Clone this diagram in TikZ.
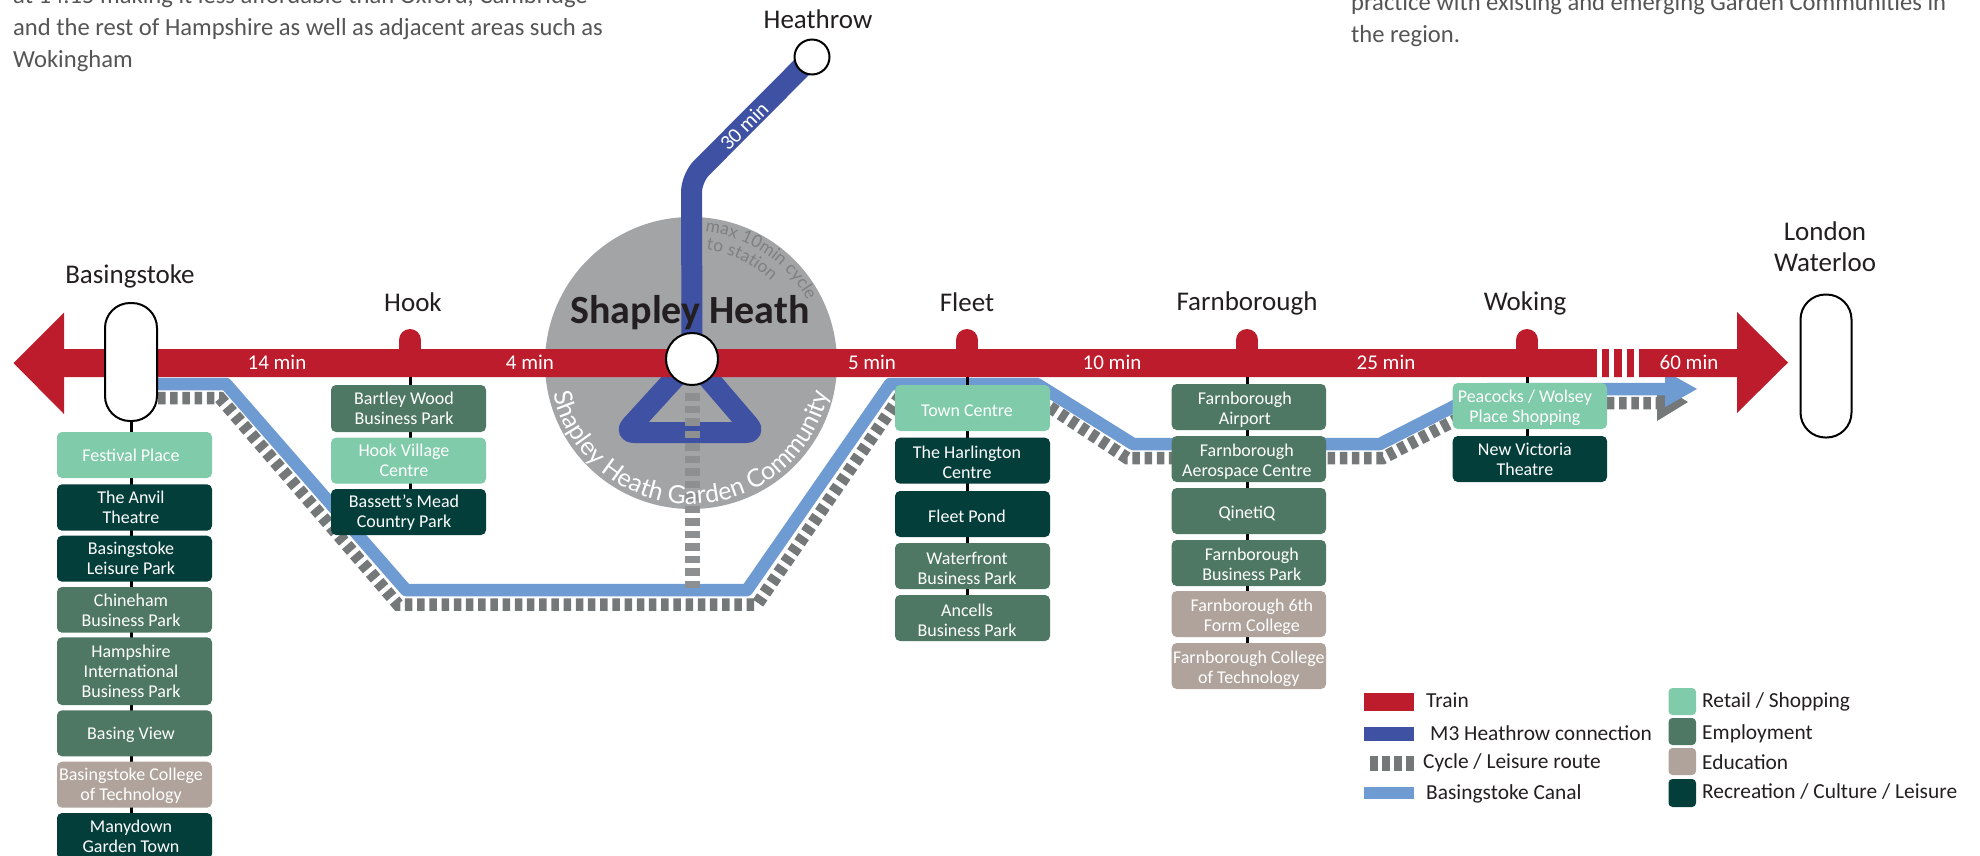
\documentclass[tikz,border=0pt]{standalone}
\usepackage{fontspec}
\setmainfont{Carlito}
\newfontfamily\arcfont{Lato}
\usetikzlibrary{decorations.text,backgrounds}
\definecolor{trainred}{HTML}{BC1C2B}
\definecolor{mblue}{HTML}{3F51A3}
\definecolor{canal}{HTML}{6F9BD3}
\definecolor{cyc}{HTML}{757879}
\definecolor{cycb}{HTML}{8E8F90}
\definecolor{cyct}{HTML}{7F8082}
\definecolor{disc}{HTML}{A3A4A6}
\definecolor{retail}{HTML}{7FCBAA}
\definecolor{employ}{HTML}{4E7864}
\definecolor{edu}{HTML}{AFA39B}
\definecolor{recre}{HTML}{033E3A}
\definecolor{ink}{HTML}{231F20}
\definecolor{para}{HTML}{555555}
\newcommand{\fsz}[1]{\fontsize{#1}{#1}\selectfont}
\tikzset{
  x=1pt,y=1pt,
  tag/.style={rounded corners=5pt,inner sep=0pt,text=white,font=\fontsize{18}{20}\selectfont},
  rbox/.style={tag,fill=retail},
  ebox/.style={tag,fill=employ},
  dbox/.style={tag,fill=edu},
  cbox/.style={tag,fill=recre},
  capsule/.style={draw=black,line width=2pt,fill=white,rounded corners=25pt,inner sep=0pt},
  stnode/.style={circle,draw=black,line width=2pt,fill=white,inner sep=0pt},
  stub/.style={trainred,line width=22pt,line cap=round},
  stem/.style={draw=black,line width=3pt},
  canalline/.style={draw=canal,line width=12.5pt},
  cycleline/.style={draw=cyc,line width=12.5pt,dash pattern=on 7.5pt off 4.7pt},
  place/.style={font=\fontsize{27}{31}\selectfont,text=ink,align=center,inner sep=0pt},
  mins/.style={font=\fontsize{21}{21}\selectfont,text=white,inner sep=0pt},
  legend/.style={font=\fontsize{21.4}{22}\selectfont,text=ink,anchor=west,inner sep=0pt},
  swatch/.style={rounded corners=4pt},
  paragraph/.style={font=\fontsize{24.6}{25}\selectfont,text=para,anchor=base west,inner sep=0pt},
}
\def\tshift{0}
\def\tdown{0}
% the tabular's centre sits 4.5pt above a zero-sized box's baseline at this size
\newcommand{\bx}[7]{\node[#2,minimum width={(#4-#3)*1pt},minimum height={(#6-#5)*1pt}] (#1) at ({(#3+#4)/2},{-(#5+#6)/2}) {\hspace*{\tshift pt}\raisebox{\dimexpr-4.5pt-\tdown pt\relax}[0pt][0pt]{\begin{tabular}{@{}c@{}}#7\end{tabular}}};}
\pgfdeclarelayer{under}
\pgfsetlayers{under,main}
\begin{document}
\begin{tikzpicture}
\useasboundingbox (0,0) rectangle (1980,-855);
\clip (0,0) rectangle (1980,-855);
\begin{pgfonlayer}{under}
\fill[white] (0,0) rectangle (1980,-855);
\end{pgfonlayer}

% stations
\node[capsule,minimum width=52pt,minimum height=118pt] (bas) at (131,-362) {};
\node[capsule,minimum width=51pt,minimum height=143pt] (wat) at (1826,-366) {};
\node[stnode,minimum size=52pt] (sh) at (692,-359) {};
\node[stnode,minimum size=35pt] (hr) at (812,-57) {};
\coordinate (hk) at (410,-363);
\coordinate (fl) at (967,-363);
\coordinate (fb) at (1247,-363);
\coordinate (wk) at (1527,-363);
\coordinate (mbend) at (691.5,-178);
\coordinate (triL) at (625,-432.5);
\coordinate (triR) at (755,-432.5);
\coordinate (cycS) at (692,-393);
\coordinate (cycE) at (692,-593);

% basingstoke boxes
\def\tshift{-7}\def\tdown{2}
\bx{fest}{rbox}{57}{212}{432}{478}{Festival Place}
\bx{anv}{cbox}{57}{212}{484.3}{530.7}{The Anvil\\Theatre}
\bx{bl}{cbox}{57}{212}{535.7}{581.7}{Basingstoke\\Leisure Park}
\bx{chi}{ebox}{57}{212}{587}{632.7}{Chineham\\Business Park}
\bx{ham}{ebox}{57}{212}{637.3}{705}{Hampshire\\International\\Business Park}
\bx{bv}{ebox}{57}{212}{710.3}{756.3}{Basing View}
\bx{bc}{dbox}{57}{212}{761.7}{807.7}{Basingstoke College\\of Technology}
\bx{man}{cbox}{57}{212}{813}{859}{Manydown\\Garden Town}
% hook
\def\tshift{-9}\def\tdown{1.5}
\bx{bw}{ebox}{331}{486}{385}{432}{Bartley Wood\\Business Park}
\bx{hv}{rbox}{331}{486}{437.7}{483.7}{Hook Village\\Centre}
\bx{bm}{cbox}{331}{486}{489}{535}{Bassett's Mead\\Country Park}
% fleet
\def\tshift{-11}\def\tdown{4}
\bx{tc}{rbox}{895}{1050}{385}{431}{Town Centre}
\bx{har}{cbox}{895}{1050}{437.7}{483.7}{The Harlington\\Centre}
\bx{fp}{cbox}{895}{1050}{491}{537}{Fleet Pond}
\bx{wf}{ebox}{895}{1050}{543}{589}{Waterfront\\Business Park}
\bx{anc}{ebox}{895}{1050}{595}{641}{Ancells\\Business Park}
% farnborough
\def\tdown{3}
\def\tshift{-8}
\bx{fa}{ebox}{1171.7}{1326}{384}{430}{Farnborough\\Airport}
\def\tshift{-4}
\bx{fac}{ebox}{1171.7}{1326}{436}{482}{Farnborough\\Aerospace Centre}
\bx{qq}{ebox}{1171.7}{1326}{488}{534}{QinetiQ}
\def\tshift{6}
\bx{fbp}{ebox}{1171.7}{1326}{540}{586}{Farnborough\\Business Park}
\bx{f6}{dbox}{1171.7}{1326}{591}{637}{Farnborough 6th\\Form College}
\def\tshift{0}
\bx{fct}{dbox}{1171.7}{1326}{643}{689}{Farnborough College\\of Technology}
% woking
\def\tshift{-10}\def\tdown{2}
\bx{pw}{rbox}{1452.7}{1607}{383}{429}{Peacocks / Wolsey\\Place Shopping}
\bx{nv}{cbox}{1452.7}{1607}{436}{482}{New Victoria\\Theatre}

\begin{pgfonlayer}{under}
  % Garden community disc
  \fill[disc] (691,-363) circle (146);
  % M3
  \draw[mblue,line width=21pt,rounded corners=14pt] (hr.center) -- (mbend) -- (sh.center);
  \draw[mblue,line width=21pt,line join=round,rounded corners=9pt] (sh.center) -- (triL) -- (triR) -- cycle;
  % canal and cycle route
  \draw[cycleline] (bas.east |- 0,-398) -- (220,-398) -- (398,-604.5) -- (757,-604.5) -- (899,-398) -- (1036,-398) -- (1127,-458) -- (1383,-458) -- (1488,-403) -- (1657,-403);
  \fill[cyc] (1657,-383) -- (1688,-402) -- (1657,-421) -- cycle;
  \draw[canalline,line join=round] (bas.east |- 0,-384) -- (226,-384) -- (406,-590) -- (747,-590) -- (890,-384) -- (1037,-384) -- (1133,-444) -- (1380,-444) -- (1488,-389) -- (1670,-389);
  \fill[canal] (1665,-371) -- (1697,-389) -- (1665,-407) -- cycle;
  \draw[draw=cycb,line width=15pt,dash pattern=on 7.5pt off 5pt] (cycS) -- (cycE);
  % stems
  \draw[stem] (bas.center) -- (bas.center |- man.center);
  \draw[stem] (hk) -- (hk |- bm.center);
  \draw[stem] (fl) -- (fl |- anc.center);
  \draw[stem] (fb) -- (fb |- fct.center);
  \draw[stem] (wk) -- (wk |- nv.center);
  % train line
  \draw[stub] (hk) ++(0,23) -- (hk);
  \draw[stub] (fl) ++(0,23) -- (fl);
  \draw[stub] (fb) ++(0,23) -- (fb);
  \draw[stub] (wk) ++(0,23) -- (wk);
  \fill[trainred] (13.5,-363) -- (64,-312.5) -- (64,-349) -- (1737,-349) -- (1737,-312) -- (1788,-362.5) -- (1737,-413) -- (1737,-377) -- (64,-377) -- (64,-414) -- cycle;
  \foreach \xa/\xb in {1597.3/1601.7,1609.3/1614,1622/1626.7,1634.3/1639}
    \fill[white] (\xa,-348) rectangle (\xb,-378);
\end{pgfonlayer}

% text on the disc
\node[font=\bfseries\fontsize{40}{40}\selectfont,text=ink,inner sep=0pt] (shl) at (690,-312.5) {Shapley Heath};
\path[decorate,decoration={text along path,text align=center,
  text={|\arcfont\fsz{25}\color{white}|Shapley Heath Garden Community}}]
  (691,-363) ++(186:141) arc (186:354:141);
\path[decorate,decoration={text along path,text align=center,
  text={|\arcfont\fsz{17.5}\color{cyct}|max 10min cycle}}]
  (691,-363) ++(86:132) arc (86:26:132);
\path[decorate,decoration={text along path,text align=center,
  text={|\arcfont\fsz{17.5}\color{cyct}|to station}}]
  (691,-363) ++(84:114.5) arc (84:44:114.5);

% place names
\node[place] (nbas) at (130,-276.5) {Basingstoke};
\node[place] (nhk) at (413,-302) {Hook};
\node[place] (nfl) at (967,-302) {Fleet};
\node[place] (nfb) at (1247,-303) {Farnborough};
\node[place] (nwk) at (1525,-303) {Woking};
\node[place] (nwat) at (1825,-247) {London\\Waterloo};
\node[place] (nhr) at (818,-19) {Heathrow};

% times
\node[mins] (t1) at (277,-362) {14 min};
\node[mins] (t2) at (530,-362) {4 min};
\node[mins] (t3) at (872,-362) {5 min};
\node[mins] (t4) at (1112,-362) {10 min};
\node[mins] (t5) at (1386,-362) {25 min};
\node[mins] (t6) at (1689,-362) {60 min};
\node[mins,rotate=45] (t7) at (744,-126) {30 min};

% paragraphs
\node[paragraph] (p1) at (13,-3) {at 14.15 making it less affordable than Oxford, Cambridge};
\node[paragraph] (p2) at (13,-35) {and the rest of Hampshire as well as adjacent areas such as};
\node[paragraph] (p3) at (13,-67) {Wokingham};
\node[paragraph] (p4) at (1351,-10) {practice with existing and emerging Garden Communities in};
\node[paragraph] (p5) at (1351,-42) {the region.};

% legend
\fill[trainred] (1364,-693) rectangle (1414,-711);
\fill[mblue] (1364,-727) rectangle (1414,-741);
\draw[cyc,line width=15pt,dash pattern=on 8pt off 4pt] (1370,-763.5) -- (1414,-763.5);
\fill[canal] (1364,-787) rectangle (1414,-799);
\node[legend] (l1) at (1426,-700.5) {Train};
\node[legend] (l2) at (1430,-733) {M3 Heathrow connection};
\node[legend] (l3) at (1423,-763) {Cycle / Leisure route};
\node[legend] (l4) at (1426,-794) {Basingstoke Canal};
\fill[retail,swatch] (1668.5,-688) rectangle (1696,-715);
\fill[employ,swatch] (1668.5,-718) rectangle (1696,-745);
\fill[edu,swatch] (1668.5,-748) rectangle (1696,-775);
\fill[recre,swatch] (1668.5,-779) rectangle (1696,-807);
\node[legend] (l5) at (1702,-702) {Retail / Shopping};
\node[legend] (l6) at (1702,-733.5) {Employment};
\node[legend] (l7) at (1702,-762.5) {Education};
\node[legend] (l8) at (1702,-792) {Recreation / Culture / Leisure};
\end{tikzpicture}
\end{document}
